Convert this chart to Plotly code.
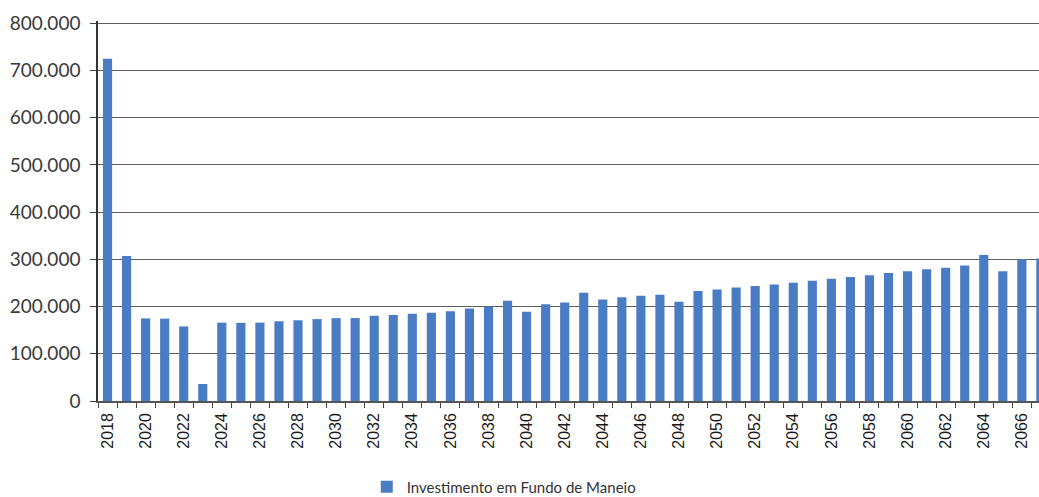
import plotly.graph_objects as go

# Annual working-capital investment (EUR), 2018-2067
years = [str(y) for y in range(2018, 2068)]
investimento = [
    725000, 307000, 175000, 174500, 158000, 36000, 166000, 165500, 166000, 169000,
    171000, 173500, 175500, 175700, 180500, 182400, 184900, 187200, 189900, 195700,
    199400, 212200, 188900, 204700, 208500, 229200, 215000, 219800, 223000, 224900,
    210000, 232800, 236200, 240300, 243700, 246800, 250600, 254800, 258800, 262800,
    266600, 271400, 274800, 278900, 282200, 286900, 309200, 274900, 300400, 302000,
]
series_name = "Investimento em Fundo de Maneio"
y_ticks = [0, 100000, 200000, 300000, 400000, 500000, 600000, 700000, 800000]
# label every second year
x_ticktext = [y if (int(y) - 2018) % 2 == 0 else "" for y in years]

fig = go.Figure(
    go.Bar(
        x=years,
        y=investimento,
        name=series_name,
        marker=dict(color="#4A7CC4", line=dict(width=0)),
        showlegend=True,
    )
)

fig.update_layout(
    width=1039,
    height=497,
    margin=dict(l=98, r=0, t=21, b=96),
    paper_bgcolor="white",
    plot_bgcolor="white",
    separators=",.",
    bargap=0.52,
    font=dict(family="Lato", color="#333333"),
    legend=dict(
        orientation="h",
        xref="container",
        yref="container",
        x=0.353,
        xanchor="left",
        y=0.02,
        yanchor="middle",
        font=dict(family="Lato", size=15, color="#333333"),
        itemwidth=30,
        bgcolor="rgba(0,0,0,0)",
    ),
)

fig.update_xaxes(
    type="category",
    range=[-0.5, 48.9],
    tickmode="array",
    tickvals=years,
    ticktext=x_ticktext,
    tickangle=-90,
    tickson="boundaries",
    ticks="outside",
    ticklen=5,
    tickcolor="#444444",
    ticklabelstandoff=4,
    tickfont=dict(family="Liberation Sans", size=16, color="#1a1a1a"),
    showline=True,
    linecolor="#555555",
    linewidth=1.5,
    showgrid=False,
    zeroline=False,
)

fig.update_yaxes(
    range=[0, 805000],
    tickmode="array",
    tickvals=y_ticks,
    tickformat=",d",
    ticks="outside",
    ticklen=6,
    tickcolor="#444444",
    ticklabelstandoff=6,
    tickfont=dict(family="Lato", size=19, color="#3a3a3a"),
    showline=True,
    linecolor="#333333",
    linewidth=1.5,
    showgrid=True,
    gridcolor="#5e5e5e",
    gridwidth=1.3,
    zeroline=False,
)

fig.write_html("out.html")
